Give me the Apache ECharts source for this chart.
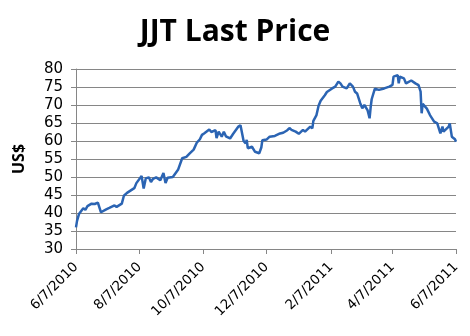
<!DOCTYPE html>
<html>
<head>
<meta charset="utf-8">
<script src="https://cdn.jsdelivr.net/npm/echarts@6/dist/echarts.min.js"></script>
<style>
  html, body { margin: 0; padding: 0; background: #fff; }
  #chart { width: 470px; height: 336px; }
</style>
</head>
<body>
<div id="chart"></div>
<script>
// Closing prices of JJT, June 2010 - June 2011
const dates = [
  '2010-06-07','2010-06-08','2010-06-10','2010-06-14','2010-06-16','2010-06-18','2010-06-22','2010-06-25',
  '2010-06-28','2010-07-01','2010-07-06','2010-07-09','2010-07-14','2010-07-16','2010-07-21','2010-07-23',
  '2010-07-26','2010-07-27','2010-08-02','2010-08-04','2010-08-09','2010-08-11','2010-08-13','2010-08-16',
  '2010-08-18','2010-08-20','2010-08-23','2010-08-27','2010-08-30','2010-09-01','2010-09-03','2010-09-08',
  '2010-09-13','2010-09-17','2010-09-21','2010-09-24','2010-09-28','2010-10-01','2010-10-04','2010-10-06',
  '2010-10-08','2010-10-13','2010-10-15','2010-10-19','2010-10-20','2010-10-22','2010-10-25','2010-10-27',
  '2010-10-29','2010-11-02','2010-11-05','2010-11-10','2010-11-12','2010-11-15','2010-11-17','2010-11-18',
  '2010-11-19','2010-11-23','2010-11-26','2010-11-30','2010-12-02','2010-12-03','2010-12-07','2010-12-10',
  '2010-12-15','2010-12-20','2010-12-23','2010-12-27','2010-12-29','2010-12-31','2011-01-04','2011-01-07',
  '2011-01-11','2011-01-13','2011-01-18','2011-01-20','2011-01-21','2011-01-24','2011-01-26','2011-01-28',
  '2011-02-01','2011-02-03','2011-02-08','2011-02-11','2011-02-14','2011-02-16','2011-02-18','2011-02-22',
  '2011-02-25','2011-02-28','2011-03-02','2011-03-04','2011-03-07','2011-03-09','2011-03-11','2011-03-14',
  '2011-03-16','2011-03-17','2011-03-18','2011-03-21','2011-03-25','2011-03-30','2011-04-04','2011-04-07',
  '2011-04-08','2011-04-12','2011-04-13','2011-04-14','2011-04-18','2011-04-20','2011-04-25','2011-04-26',
  '2011-04-29','2011-05-02','2011-05-03','2011-05-04','2011-05-05','2011-05-06','2011-05-10','2011-05-13',
  '2011-05-17','2011-05-20','2011-05-23','2011-05-25','2011-05-26','2011-05-31','2011-06-01','2011-06-03',
  '2011-06-06','2011-06-07'
];
const prices = [
  36.0, 37.8, 39.8, 41.3, 40.9, 41.9, 42.6, 42.5,
  42.9, 40.2, 41.0, 41.4, 42.1, 41.7, 42.6, 44.8,
  45.6, 46.1, 46.9, 48.3, 50.3, 46.8, 49.6, 49.9,
  48.6, 49.5, 49.9, 49.1, 51.1, 48.3, 49.8, 50.0,
  52.0, 55.2, 55.6, 56.5, 57.6, 59.5, 60.5, 61.7,
  62.1, 63.2, 62.5, 63.0, 60.8, 62.6, 61.2, 62.6,
  61.3, 60.7, 62.0, 64.0, 64.4, 60.0, 59.3, 60.3,
  58.0, 58.4, 57.0, 56.6, 58.2, 60.2, 60.4, 61.2,
  61.4, 62.1, 62.3, 63.0, 63.6, 63.1, 62.6, 62.0,
  63.1, 62.6, 64.0, 63.5, 65.6, 67.2, 69.8, 71.2,
  72.7, 73.6, 74.6, 75.1, 76.5, 76.0, 75.1, 74.6,
  76.0, 75.1, 73.7, 73.2, 70.5, 69.1, 70.0, 68.6,
  66.3, 69.3, 71.6, 74.5, 74.2, 74.6, 75.1, 75.6,
  77.9, 78.3, 76.0, 77.9, 77.4, 76.0, 76.8, 76.5,
  76.0, 75.5, 75.0, 73.7, 67.7, 70.3, 69.0, 67.2,
  65.4, 64.9, 62.1, 64.0, 62.6, 64.0, 64.9, 61.2,
  60.5, 59.8
];
// Bimonthly date ticks along the x axis
const tickDates = ['2010-06-07','2010-08-07','2010-10-07','2010-12-07','2011-02-07','2011-04-07','2011-06-07'];

const DAY = 86400000;
function toTime(s) {
  const p = s.split('-').map(Number);
  return Date.UTC(p[0], p[1] - 1, p[2]);
}
function fmtDate(v) {
  const d = new Date(Math.round(v / DAY) * DAY);
  return (d.getUTCMonth() + 1) + '/' + d.getUTCDate() + '/' + d.getUTCFullYear();
}

const tickTimes = tickDates.map(toTime);
const seriesData = dates.map((d, i) => [toTime(d), prices[i]]);

const chart = echarts.init(document.getElementById('chart'), null, { renderer: 'canvas' });
chart.setOption({
  animation: false,
  backgroundColor: '#ffffff',
  title: {
    text: 'JJT Last Price',
    left: 'center',
    top: 12,
    textStyle: { fontFamily: 'Open Sans', fontWeight: 'bold', fontSize: 30, color: '#000' }
  },
  grid: { left: 76, right: 14, top: 69, bottom: 87, containLabel: false },
  xAxis: {
    type: 'value',
    min: tickTimes[0],
    max: tickTimes[tickTimes.length - 1],
    axisLine: { show: true, onZero: false, lineStyle: { color: '#868686', width: 1 } },
    axisTick: { show: true, customValues: tickTimes, length: 5, lineStyle: { color: '#868686' } },
    axisLabel: {
      customValues: tickTimes,
      formatter: fmtDate,
      rotate: 45,
      margin: 16,
      fontFamily: 'DejaVu Sans',
      fontSize: 13.5,
      color: '#000'
    },
    splitLine: { show: false }
  },
  yAxis: {
    type: 'value',
    min: 30,
    max: 80,
    interval: 5,
    name: 'US$',
    nameLocation: 'middle',
    nameRotate: 90,
    nameGap: 49,
    nameTextStyle: { fontFamily: 'Open Sans', fontWeight: 'bold', fontSize: 16, color: '#000' },
    axisLine: { show: true, lineStyle: { color: '#868686', width: 1 } },
    axisTick: { show: true, length: 5, lineStyle: { color: '#868686' } },
    axisLabel: { fontFamily: 'DejaVu Sans', fontSize: 15, color: '#000', margin: 13 },
    splitLine: { show: true, lineStyle: { color: '#868686', width: 1 } }
  },
  series: [{
    type: 'line',
    data: seriesData,
    showSymbol: false,
    lineStyle: { color: '#2b64b3', width: 2.5 },
    itemStyle: { color: '#2b64b3' }
  }]
});
</script>
</body>
</html>
